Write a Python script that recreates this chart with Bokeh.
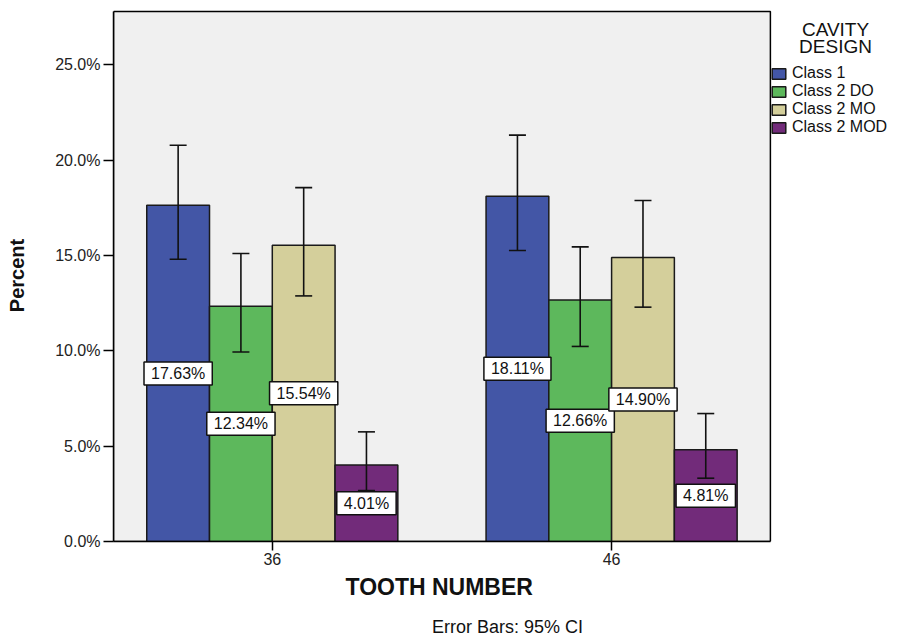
from bokeh.plotting import figure
from bokeh.models import (ColumnDataSource, Range1d, FixedTicker, Legend, Label,
                          LegendItem, Whisker, TeeHead, Title, PrintfTickFormatter)
from bokeh.core.properties import value
from bokeh.embed import file_html
from bokeh.resources import INLINE

# ---- data ----
teeth = ["36", "46"]
designs = ["Class 1", "Class 2 DO", "Class 2 MO", "Class 2 MOD"]
pct_36 = [17.63, 12.34, 15.54, 4.01]
pct_46 = [18.11, 12.66, 14.90, 4.81]
ci_low_36 = [14.80, 9.94, 12.88, 2.67]
ci_high_36 = [20.78, 15.10, 18.56, 5.75]
ci_low_46 = [15.26, 10.23, 12.29, 3.32]
ci_high_46 = [21.31, 15.45, 17.88, 6.71]
y_ticks = [0, 5, 10, 15, 20, 25]
legend_title = ["CAVITY", "DESIGN"]
x_title = "TOOTH NUMBER"
y_title = "Percent"
note_text = "Error Bars: 95% CI"

colors = ["#4356A6", "#5DB85C", "#D4CF9B", "#722B7A"]
FONT = "Liberation Sans"
bar_w = 0.185
X0, X1 = 0.532, 2.468      # visible plot panel in x
Y1 = 27.8                  # top of visible plot panel

p = figure(frame_width=788, frame_height=532, output_backend="svg", toolbar_location=None,
           x_range=Range1d(X0, 2.8544), y_range=Range1d(0, 27.9),
           min_border_left=113, min_border_top=9, min_border_right=0, min_border_bottom=99)
p.background_fill_color = "white"
p.border_fill_color = "white"
p.outline_line_color = None
p.xgrid.grid_line_color = None
p.ygrid.grid_line_color = None

# grey plot panel with black frame
p.quad(left=[X0], right=[X1], bottom=[0], top=[Y1], fill_color="#F0F0F0",
       line_color="black", line_width=1.5)

vals = [pct_36, pct_46]
lows = [ci_low_36, ci_low_46]
highs = [ci_high_36, ci_high_46]

items = []
all_x, all_v, all_lo, all_hi, all_txt = [], [], [], [], []
for j, d in enumerate(designs):
    xs = [gi + 1 + (j - 1.5) * bar_w for gi in range(len(teeth))]
    tops = [vals[gi][j] for gi in range(len(teeth))]
    src = ColumnDataSource(dict(x=xs, top=tops))
    r = p.vbar(x="x", top="top", bottom=0, width=bar_w, source=src,
               fill_color=colors[j], line_color="#1a1a1a", line_width=1.5)
    items.append(LegendItem(label=d, renderers=[r]))
    for gi in range(len(teeth)):
        all_x.append(xs[gi])
        all_v.append(tops[gi])
        all_lo.append(lows[gi][j])
        all_hi.append(highs[gi][j])
        all_txt.append(f"{tops[gi]:.2f}%")

esrc = ColumnDataSource(dict(x=all_x, v=all_v, lo=all_lo, hi=all_hi,
                             mid=[v / 2 for v in all_v], txt=all_txt))

p.text(x="x", y="mid", text="txt", source=esrc, text_align="center",
       text_baseline="middle", text_font=value(FONT), text_font_size="16px",
       text_color="#111111", background_fill_color="white",
       border_line_color="#111111", border_line_width=1.5,
       padding=dict(left=7, right=7, top=3, bottom=3))

wh = Whisker(base="x", upper="hi", lower="lo", source=esrc, line_color="#111111", line_width=1.6,
             upper_head=TeeHead(size=17, line_color="#111111", line_width=1.6),
             lower_head=TeeHead(size=17, line_color="#111111", line_width=1.6),
             level="overlay")
p.add_layout(wh)

# axes
p.yaxis.ticker = FixedTicker(ticks=y_ticks)
p.yaxis.formatter = PrintfTickFormatter(format="%.1f%%")
p.yaxis.axis_label = y_title
p.yaxis.bounds = (0, Y1)
p.xaxis.ticker = FixedTicker(ticks=[i + 1 for i in range(len(teeth))])
p.xaxis.major_label_overrides = {i + 1: t for i, t in enumerate(teeth)}
p.xaxis.bounds = (X0, X1)
for ax in (p.xaxis, p.yaxis):
    ax.axis_line_color = "black"
    ax.axis_line_width = 1.5
    ax.major_tick_line_color = "black"
    ax.major_tick_line_width = 1.5
    ax.major_tick_in = 0
    ax.minor_tick_line_color = None
    ax.major_label_text_font = FONT
    ax.major_label_text_font_size = "16px"
    ax.major_label_text_color = "#222222"
    ax.axis_label_text_font = FONT
    ax.axis_label_text_font_style = "bold"
    ax.axis_label_text_color = "#111111"
p.yaxis.major_tick_out = 10
p.yaxis.major_label_standoff = 3
p.yaxis.axis_label_standoff = 24
p.yaxis.axis_label_text_font_size = "20px"
p.xaxis.major_tick_out = 9
p.xaxis.major_label_standoff = 2

xt = Title(text=x_title, align="left", offset=232, standoff=8,
           text_font=FONT, text_font_size="23px", text_font_style="bold",
           text_color="#111111")
p.add_layout(xt, "below")

note = Title(text=note_text, align="center", offset=0, standoff=22,
             text_font=FONT, text_font_size="18px", text_font_style="normal",
             text_color="#111111")
p.add_layout(note, "below")

# legend title (two centred lines), right of the grey panel
for k, line in enumerate(legend_title):
    p.add_layout(Label(x=2.660, y=26.84 - 0.87 * k, text=line, text_align="center",
                       text_baseline="middle", text_font=FONT, text_font_size="19px",
                       text_color="#111111"))

legend = Legend(items=items, location=(657, 405),
                label_text_font=FONT, label_text_font_size="16px", label_text_color="#111111",
                glyph_width=17, glyph_height=13, label_standoff=5, label_height=16,
                spacing=0, padding=3, margin=0,
                border_line_color=None, background_fill_alpha=0)
p.add_layout(legend)

open("out.html", "w").write(file_html(p, INLINE))
